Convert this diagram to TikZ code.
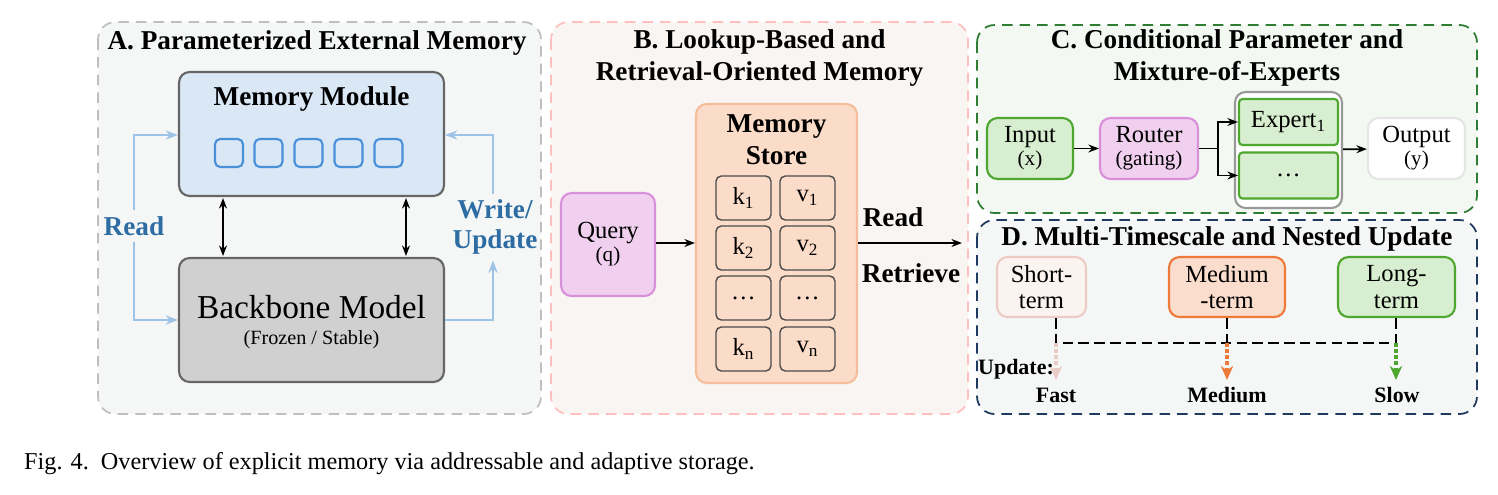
\documentclass[tikz,border=0pt]{standalone}
\usepackage{fontspec}
\setmainfont{Liberation Serif}
\usetikzlibrary{arrows.meta,positioning}
\definecolor{panA}{HTML}{F5F7F7}
\definecolor{panB}{HTML}{F9F5F2}
\definecolor{panC}{HTML}{F3F8F3}
\definecolor{memblue}{HTML}{DAE8F6}
\definecolor{slotblue}{HTML}{4A90D9}
\definecolor{lineblue}{HTML}{9DC3E6}
\definecolor{txtblue}{HTML}{2E6DA4}
\definecolor{bbgray}{HTML}{D0D0D0}
\definecolor{qfill}{HTML}{F0D0EE}
\definecolor{qdraw}{HTML}{DA8FDB}
\definecolor{sfill}{HTML}{FBDCC8}
\definecolor{sdraw}{HTML}{F5BE9A}
\definecolor{gfill}{HTML}{D8EED0}
\definecolor{gdraw}{HTML}{4EA72E}
\definecolor{shfill}{HTML}{FAF3F0}
\definecolor{shdraw}{HTML}{EBCBC4}
\definecolor{mdfill}{HTML}{FADDCC}
\definecolor{mddraw}{HTML}{EE7A3A}
\definecolor{navy}{HTML}{1F3A5F}
\definecolor{dkgreen}{HTML}{2E7D32}
\tikzset{
  panel/.style={rounded corners=10pt, dashed, dash pattern=on 6pt off 4pt, line width=1pt},
  box/.style={rounded corners=6pt, draw, line width=1.2pt, align=center, inner sep=1pt, font=\fontsize{14}{15}\selectfont},
  cell/.style={rounded corners=3pt, draw=black!70, line width=0.8pt, minimum width=1.1cm, minimum height=0.88cm, font=\fontsize{14}{15}\selectfont},
  slot/.style={rounded corners=3pt, draw=slotblue, line width=1.2pt, minimum width=0.56cm, minimum height=0.56cm},
  title/.style={font=\fontsize{15.5}{18}\selectfont\bfseries, align=center},
  sub/.style={font=\fontsize{11.5}{13}\selectfont},
  flow/.style={-{Stealth[length=6pt]}, line width=1pt},
  rw/.style={-{Stealth[length=7pt]}, lineblue, line width=1.2pt},
  upd/.style={-{Stealth[length=8pt,width=7pt]}, dash pattern=on 2pt off 1.5pt, line width=2pt},
}
\begin{document}
\begin{tikzpicture}[x=0.02cm, y=-0.02cm, every node/.style={font=\fontsize{14}{15}\selectfont}]
\useasboundingbox (0,0) rectangle (1498,494);

% Panels
\draw[panel, draw=black!25, fill=panA] (98,22) rectangle (541,414);
\draw[panel, draw=red!25, fill=panB] (551,22) rectangle (968,414);
\draw[panel, draw=dkgreen, fill=panC] (977,25) rectangle (1477,213);
\draw[panel, draw=navy, fill=panA] (977,220) rectangle (1477,414);

% A. Parameterized External Memory
\node[title] (tA) at (317,43) {A. Parameterized External Memory};
\node[box, draw=black!60, fill=memblue, minimum width=5.3cm, minimum height=2.48cm] (mem) at (311.5,134) {};
\node[font=\fontsize{15.5}{17}\selectfont\bfseries] (memt) at (311.5,99) {Memory Module};
\foreach \i/\x in {1/229,2/268.5,3/308.5,4/348.5,5/388.5}
  \node[slot] (s\i) at (\x,153) {};
\node[box, draw=black!60, fill=bbgray, minimum width=5.3cm, minimum height=2.48cm] (bb) at (311.5,320) {};
\node[font=\fontsize{19}{21}\selectfont] (bbt) at (311.5,307) {Backbone Model};
\node[sub] (bbs) at (311.5,340) {(Frozen / Stable)};
\coordinate (m1) at (223,198); \coordinate (b1) at (223,256);
\coordinate (m2) at (406,198); \coordinate (b2) at (406,256);
\draw[{Stealth[length=6pt]}-{Stealth[length=6pt]}, line width=1pt] (m1) -- (b1);
\draw[{Stealth[length=6pt]}-{Stealth[length=6pt]}, line width=1pt] (m2) -- (b2);
\node[font=\fontsize{15.5}{17}\selectfont\bfseries, text=txtblue] (rd) at (134,226) {Read};
\draw[rw] (rd.north) -- (134,135) -- (mem.west |- 0,135);
\draw[rw] (rd.south) -- (134,320) -- (bb.west |- 0,320);
\node[font=\fontsize{15.5}{17}\selectfont\bfseries, text=txtblue, align=center] (wr) at (495,227) {Write/\\Update};
\draw[rw] (bb.east |- 0,320) -- (493,320) -- (wr.south -| 493,0);
\draw[rw] (wr.north -| 493,0) -- (493,135) -- (mem.east |- 0,135);

% B. Lookup-Based and Retrieval-Oriented Memory
\node[title] (tB) at (759.5,58) {B. Lookup-Based and\\Retrieval-Oriented Memory};
\node[box, draw=qdraw, fill=qfill, minimum width=1.88cm, minimum height=2.06cm] (qry) at (608,244.5) {Query\\[-2pt]{\fontsize{12}{13}\selectfont(q)}};
\node[box, draw=sdraw, fill=sfill, minimum width=3.22cm, minimum height=5.58cm] (store) at (776.5,243.5) {};
\node[title] (stt) at (776.5,140) {Memory\\Store};
\foreach \r/\y/\k/\v in {1/198/k\textsubscript{1}/v\textsubscript{1}, 2/248/k\textsubscript{2}/v\textsubscript{2}, 3/298/\dots/\dots, 4/349/k\textsubscript{n}/v\textsubscript{n}}{
  \node[cell] (k\r) at (743.5,\y) {\k};
  \node[cell] (v\r) at (807.5,\y) {\v};
}
\draw[flow] (qry.east |- 0,243) -- (store.west |- 0,243);
\coordinate (ret) at (962,243);
\draw[flow] (store.east |- 0,243) -- (ret);
\node[title] (rdB) at (893,217) {Read};
\node[title] (rtB) at (911,273) {Retrieve};

% C. Conditional Parameter and Mixture-of-Experts
\node[title] (tC) at (1227,58) {C. Conditional Parameter and\\Mixture-of-Experts};
\node[box, draw=gdraw, fill=gfill, minimum width=1.72cm, minimum height=1.22cm] (inp) at (1030,148.5) {Input\\[-2pt]{\fontsize{12}{13}\selectfont(x)}};
\node[box, draw=qdraw, fill=qfill, minimum width=1.96cm, minimum height=1.22cm] (rtr) at (1149,148.5) {Router\\[-2pt]{\fontsize{12}{13}\selectfont(gating)}};
\node[box, draw=black!40, fill=white, minimum width=2.14cm, minimum height=2.32cm] (grp) at (1288.5,150) {};
\node[box, rounded corners=2pt, draw=gdraw, fill=gfill, minimum width=1.98cm, minimum height=0.92cm] (ex1) at (1288.5,122) {Expert\textsubscript{1}};
\node[box, rounded corners=2pt, draw=gdraw, fill=gfill, minimum width=1.98cm, minimum height=0.92cm] (exn) at (1288.5,175.5) {\dots};
\node[box, draw=black!10, fill=white, minimum width=1.94cm, minimum height=1.22cm] (out) at (1416.5,148.5) {Output\\[-2pt]{\fontsize{12}{13}\selectfont(y)}};
\draw[flow] (inp) -- (rtr);
\draw[line width=1pt] (rtr.east) -- (1218,148.5);
\draw[flow] (1218,148.5) |- (ex1.west);
\draw[flow] (1218,148.5) |- (exn.west);
\draw[flow] (grp) -- (out);

% D. Multi-Timescale and Nested Update
\node[title] (tD) at (1227,239) {D. Multi-Timescale and Nested Update};
\node[box, draw=shdraw, fill=shfill, minimum width=1.78cm, minimum height=1.2cm] (sh) at (1041.5,287) {Short-\\term};
\node[box, draw=mddraw, fill=mdfill, minimum width=2.32cm, minimum height=1.2cm] (md) at (1227,287) {Medium\\-term};
\node[box, draw=gdraw, fill=gfill, minimum width=2.34cm, minimum height=1.2cm] (lg) at (1396.5,287) {Long-\\term};
\coordinate (j1) at (1056,343); \coordinate (j2) at (1227,343); \coordinate (j3) at (1396,343);
\draw[dashed, dash pattern=on 6pt off 3pt, line width=1pt] (sh.south -| j1) -- (j1) -- (j3);
\draw[dashed, dash pattern=on 6pt off 3pt, line width=1pt] (md.south -| j2) -- (j2);
\draw[dashed, dash pattern=on 6pt off 3pt, line width=1pt] (lg.south -| j3) -- (j3);
\node[font=\fontsize{12.5}{14}\selectfont\bfseries] (fa) at (1056,395) {Fast};
\node[font=\fontsize{12.5}{14}\selectfont\bfseries] (me) at (1227,395) {Medium};
\node[font=\fontsize{12.5}{14}\selectfont\bfseries] (sl) at (1397,395) {Slow};
\draw[upd, shdraw] (j1) -- (1056,380);
\draw[upd, mddraw] (j2) -- (1227,380);
\draw[upd, gdraw] (j3) -- (1396,380);
\node[font=\fontsize{12.5}{14}\selectfont\bfseries] (upd) at (1016,369) {Update:};

% Caption
\node[anchor=west, font=\fontsize{13.8}{15}\selectfont] (cap) at (18,464) {Fig. 4.\ \ Overview of explicit memory via addressable and adaptive storage.};
\end{tikzpicture}
\end{document}
